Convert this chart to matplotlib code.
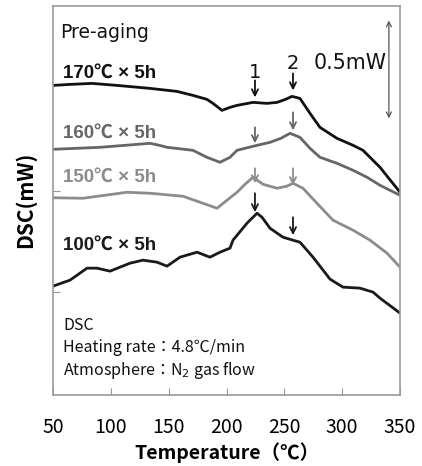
import matplotlib
matplotlib.use("Agg")
import matplotlib.pyplot as plt

plt.rcParams['font.family'] = ['Noto Sans CJK JP', 'DejaVu Sans']

# Temperature (°C) and DSC signal (arbitrary offset units, 196 units = 1 mW)
t170 = [50, 64.7, 83.7, 105.3, 133.9, 157.2, 171, 183.1, 188.3, 196.1, 203, 209.1, 222.9,
        235, 243.7, 251, 256.6, 263.5, 272.2, 280.8, 295.5, 309.4, 318, 332.7, 350]
y170 = [310, 311, 312, 310, 307, 304, 300, 296, 292, 285, 288, 290, 293,
        292, 293, 296, 299, 297, 282, 268, 257, 250, 245, 228, 203]

t160 = [50, 90.6, 133.9, 142, 148.6, 171, 183.1, 194.4, 203, 209.1, 222.9, 237.6, 247,
        254.9, 263.5, 272.2, 280.8, 295.5, 309.4, 321.5, 332.7, 350]
y160 = [246, 248, 252, 250, 248, 245, 238, 233, 238, 245, 249, 253, 257,
        262, 258, 247, 238, 232, 225, 218, 210, 200]

t150 = [50, 75.9, 95, 114, 133.9, 162.4, 177.1, 191.8, 200.4, 209.1, 216, 222.9, 231.6, 243.7,
        252, 257.5, 266.1, 278.2, 292.1, 309.4, 324.1, 338.8, 350]
y150 = [197.5, 197, 200, 203, 202, 199, 193, 187, 195, 203, 211, 218, 211, 207,
        209, 212, 207, 192, 175, 165, 155, 142, 128]

t100 = [50, 64.7, 79.4, 88, 99.3, 116.6, 127.8, 139.9, 148.6, 159.8, 174.5, 185.7,
        194.4, 203, 205.6, 217.7, 226.4, 230.7, 237.6, 248.8, 257.5, 263.5, 274.8,
        289.5, 300.7, 315.4, 326.7, 332.7, 350]
y100 = [109, 115, 127, 127, 124, 132, 135, 133, 129, 138, 143, 138,
        143, 147, 155, 172, 182, 178, 167, 158, 155, 153, 138,
        116, 108, 107, 103, 97, 82]

series_labels = ['170℃ × 5h', '160℃ × 5h', '150℃ × 5h', '100℃ × 5h']
series_colors = ['#111111', '#666666', '#8c8c8c', '#1a1a1a']
label_y = [322, 262, 218, 150]

peak_T = [224.6, 257.5]
# arrow (tail, tip) y for each curve at peak 1 and peak 2
arrows = [
    [(315, 298), (322, 305)],
    [(268, 252), (283, 265)],
    [(227, 212), (227, 210)],
    [(202, 183), (178, 160)],
]

xticks = [50, 100, 150, 200, 250, 300, 350]
yticks = [204, 103]

label_font = ['Liberation Sans', 'Noto Sans CJK JP', 'DejaVu Sans']
note_font = ['DejaVu Sans', 'Noto Sans CJK JP']

fig = plt.figure(figsize=(4.22, 4.66), dpi=100)
ax = fig.add_axes([53/422, 71/466, 347/422, 389.5/466])

for t, y, c in zip([t170, t160, t150, t100], [y170, y160, y150, y100], series_colors):
    ax.plot(t, y, color=c, lw=2.0, solid_joinstyle='round', solid_capstyle='round')

for lab, ly, c in zip(series_labels, label_y, series_colors):
    ax.text(58.5, ly, lab, color=c, fontsize=13.5, fontweight='bold',
            va='center', ha='left', family=label_font)

for arr, c in zip(arrows, series_colors):
    for T, (tail, tip) in zip(peak_T, arr):
        ax.annotate('', xy=(T, tip), xytext=(T, tail),
                    arrowprops=dict(arrowstyle='->', color=c, lw=1.3,
                                    mutation_scale=11, shrinkA=0, shrinkB=0))

ax.text(peak_T[0], 323, '1', fontsize=14, ha='center', va='center', color='#111111',
        family=note_font)
ax.text(peak_T[1], 332, '2', fontsize=14, ha='center', va='center', color='#111111',
        family=note_font)

ax.text(56, 363, 'Pre-aging', fontsize=13.5, ha='left', va='center', color='#111111',
        family=note_font)

# scale bar 0.5 mW
ax.annotate('', xy=(340.4, 375), xytext=(340.4, 277),
            arrowprops=dict(arrowstyle='<->', color='#555555', lw=0.9,
                            mutation_scale=9, shrinkA=0, shrinkB=0))
ax.text(306.5, 332, '0.5mW', fontsize=14.8, ha='center', va='center', color='#111111',
        family=note_font)

ax.text(59, 70, 'DSC', fontsize=11.5, ha='left', va='center', color='#111111')
ax.text(59, 48, 'Heating rate：4.8℃/min', fontsize=11.5, ha='left', va='center', color='#111111')
ax.text(59, 25, 'Atmosphere：N$_2$ gas flow', fontsize=11.5, ha='left', va='center', color='#111111')

ax.set_xlim(50, 350)
ax.set_ylim(0, 390)
ax.set_xticks(xticks)
ax.set_yticks(yticks)
ax.set_yticklabels([])
ax.tick_params(axis='x', direction='in', length=5, color='#999999', pad=16, labelsize=14)
ax.tick_params(axis='y', direction='in', length=5, color='#999999')
for s in ax.spines.values():
    s.set_color('#999999')
    s.set_linewidth(1.2)

ax.set_xlabel('Temperature（℃）', fontsize=14, fontweight='bold', labelpad=3)
ax.set_ylabel('DSC(mW)', fontsize=15, fontweight='bold')
ax.yaxis.set_label_coords(-0.05, 0.5)

fig.savefig('out.png', dpi=100)
